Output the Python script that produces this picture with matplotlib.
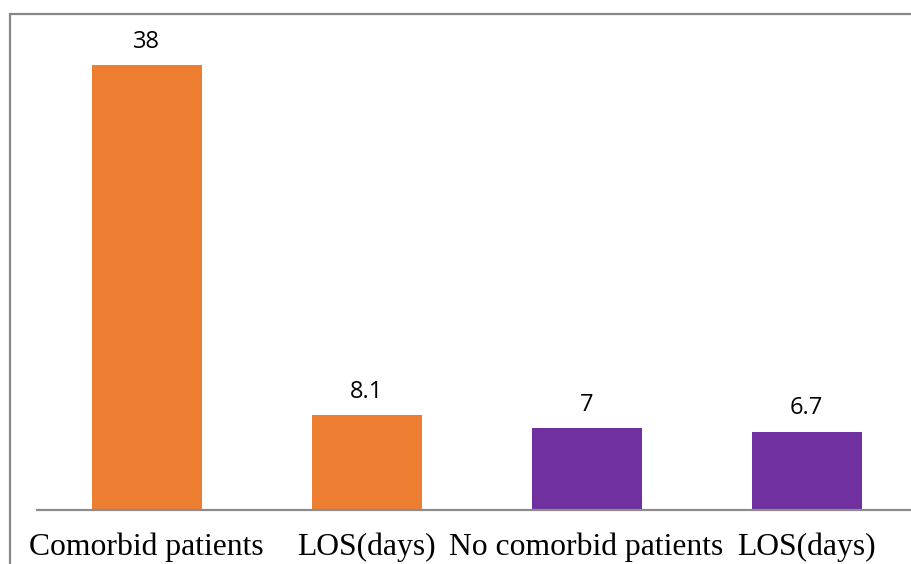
import matplotlib
matplotlib.use('agg')
import matplotlib.pyplot as plt
from matplotlib.patches import Rectangle

categories = ['Comorbid patients', 'LOS(days)', 'No comorbid patients', 'LOS(days)']
values = [38, 8.1, 7, 6.7]
value_labels = ['38', '8.1', '7', '6.7']
colors = ['#ED7D31', '#ED7D31', '#7030A0', '#7030A0']

W, H = 911, 564
fig = plt.figure(figsize=(W / 100, H / 100), dpi=100)

# plot area in pixel terms
ax = fig.add_axes([36.5 / W, 54 / H, 880 / W, (510 - 41.6) / H])
x = list(range(len(categories)))
ax.bar(x, values, width=0.5, color=colors)
ax.set_xlim(-0.5, 3.5)
ax.set_ylim(0, 40)

for xi, v, lab in zip(x, values, value_labels):
    ax.annotate(lab, (xi, v), xytext=(0, 12.4), textcoords='offset points',
                ha='center', va='baseline', fontsize=17, family='Open Sans')

ax.set_xticks(x)
ax.set_xticklabels(categories, family='Liberation Serif', fontsize=22.8)
ax.tick_params(axis='x', length=0, pad=16.5)
ax.set_yticks([])
for s in ['left', 'right', 'top']:
    ax.spines[s].set_visible(False)
ax.spines['bottom'].set_color('#8c8c8c')
ax.spines['bottom'].set_linewidth(1.6)

# outer chart border (only left and top visible in the crop)
fig.patches.append(Rectangle((9.5 / W, -0.1), 1.2, (H - 13.5) / H + 0.1,
                             transform=fig.transFigure, fill=False,
                             edgecolor='#888888', linewidth=1.6))

fig.savefig('out.png', dpi=100)
